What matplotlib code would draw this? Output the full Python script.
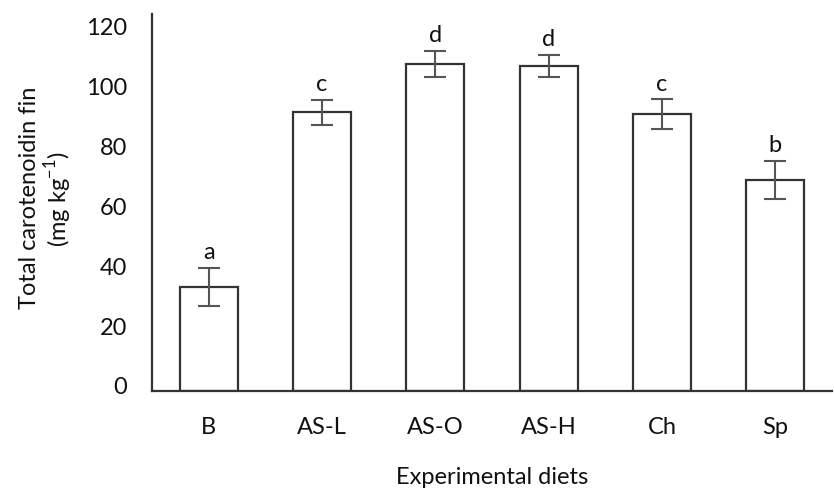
import matplotlib
matplotlib.use("Agg")
import matplotlib.pyplot as plt
import matplotlib.transforms as mtransforms

categories = ["B", "AS-L", "AS-O", "AS-H", "Ch", "Sp"]
means = [34.7, 92.9, 109.0, 108.4, 92.3, 70.4]
errors = [6.3, 4.2, 4.4, 3.7, 5.0, 6.4]
letters = ["a", "c", "d", "d", "c", "b"]
yticks = [0, 20, 40, 60, 80, 100, 120]

plt.rcParams['font.family'] = ['Lato', 'DejaVu Sans']
FS = 17

fig = plt.figure(figsize=(8.34, 4.89), dpi=100)
ax = fig.add_axes([152/834, 1 - 392/489, (832-152)/834, (392-15)/489])

x = list(range(len(categories)))
ax.bar(x, means, width=0.51, color="white", edgecolor="#333333", linewidth=1.6, zorder=2)
ax.errorbar(x, means, yerr=errors, fmt="none", ecolor="#555555", elinewidth=1.5,
            capsize=8, capthick=1.5, zorder=3)
for xi, m, e, lt in zip(x, means, errors, letters):
    ax.annotate(lt, (xi, m + e), xytext=(0, 4), textcoords="offset points",
                ha="center", va="bottom", fontsize=FS, color="#111111")

ax.set_xlim(-0.5, 5.5)
ax.set_ylim(0, 125.7)
ax.set_yticks(yticks)
ax.set_xticks(x)
ax.set_xticklabels(categories, fontsize=FS, color="#111111")
ax.set_yticklabels([str(v) for v in yticks], fontsize=FS, color="#111111")
ax.tick_params(axis="both", length=0)
ax.tick_params(axis="y", pad=18)
ax.tick_params(axis="x", pad=18)
off = mtransforms.ScaledTranslation(0, 6/100, fig.dpi_scale_trans)
for lab in ax.get_yticklabels():
    lab.set_transform(lab.get_transform() + off)

for s in ["top", "right"]:
    ax.spines[s].set_visible(False)
for s in ["left", "bottom"]:
    ax.spines[s].set_color("#333333")
    ax.spines[s].set_linewidth(1.6)

ax.set_xlabel("Experimental diets", fontsize=FS, color="#111111", labelpad=21)
fig.text(30/834, 1 - 198/489, "Total carotenoidin fin", rotation=90, ha="center", va="center",
         fontsize=FS, color="#111111")
fig.text(58/834, 1 - 199/489, "(mg kg$^{\\mathregular{-1}}$)", rotation=90, ha="center", va="center",
         fontsize=FS, color="#111111")

fig.savefig("out.png", dpi=100)
